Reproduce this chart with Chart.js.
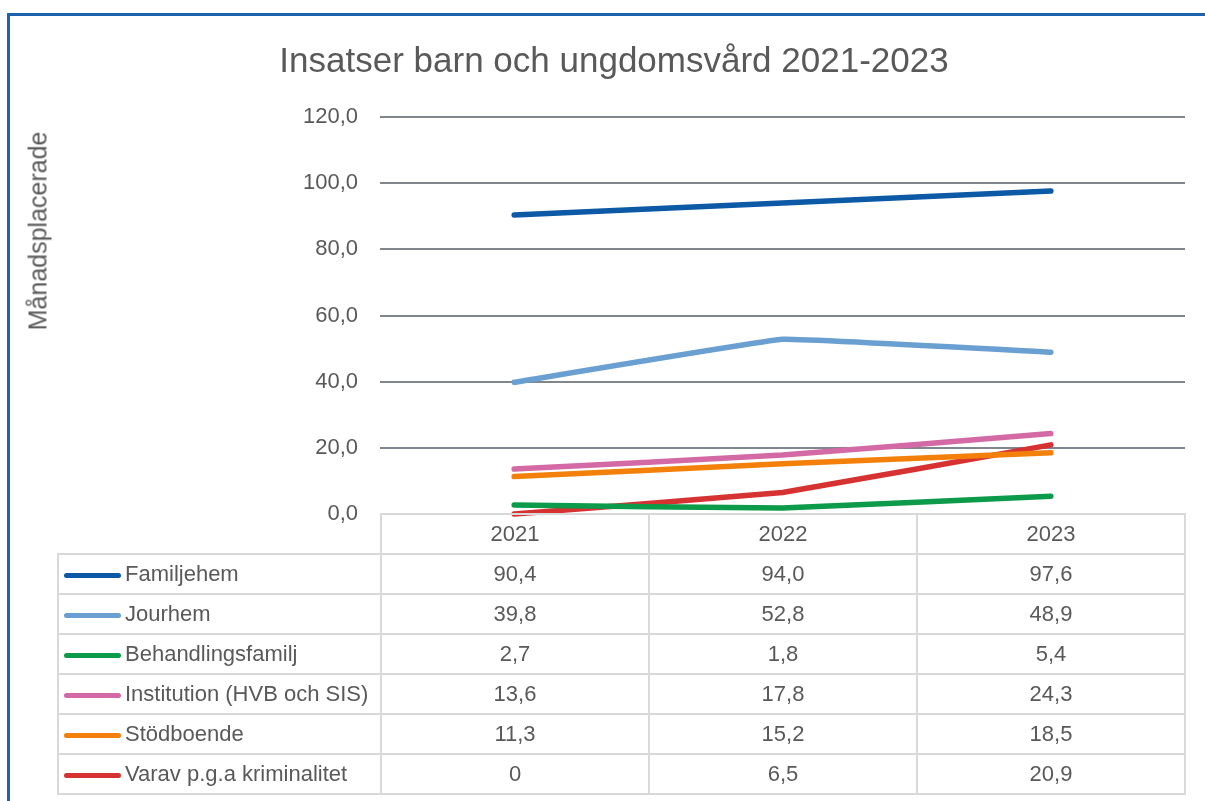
<!DOCTYPE html>
<html>
<head>
<meta charset="utf-8">
<script src="https://cdn.jsdelivr.net/npm/chart.js@4.4.1/dist/chart.umd.min.js"></script>
<style>
  body { margin: 0; background: #fff; }
  #wrap { position: relative; width: 1205px; height: 801px; overflow: hidden; font-family: "Liberation Sans", sans-serif; color: #595959; }
  #frame { position: absolute; left: 7px; top: 13px; width: 1210px; height: 800px; border-left: 3px solid #1e63b0; border-top: 3px solid #1e63b0; }
  #chartBox { position: absolute; left: 0; top: 0; width: 1205px; height: 801px; }
  #ytitle { position: absolute; left: 38px; top: 231px; transform: translate(-50%, -50%) rotate(-90deg); white-space: nowrap; font-size: 25px; }
  #tbl { position: absolute; left: 57px; top: 513px; border-collapse: collapse; font-size: 22px; }
  #tbl td { border: 2px solid #d9d9d9; text-align: center; padding: 0; height: 38px; width: 266px; }
  #tbl td.name { width: 321px; text-align: left; white-space: nowrap; }
  #tbl td.blank { border: none; border-right: 2px solid #d9d9d9; }
  .sw { display: inline-block; width: 57px; height: 5px; border-radius: 3px; vertical-align: middle; margin: 0 4px 0 5px; }
</style>
</head>
<body>
<div id="wrap">
  <div id="frame"></div>
  <div id="chartBox"><canvas id="myChart"></canvas></div>
  <div id="ytitle">Månadsplacerade</div>
  <table id="tbl"></table>
</div>
<script>
var years = ["2021", "2022", "2023"];
var seriesNames = ["Familjehem", "Jourhem", "Behandlingsfamilj", "Institution (HVB och SIS)", "Stödboende", "Varav p.g.a kriminalitet"];
var familjehem = [90.4, 94.0, 97.6];
var jourhem = [39.8, 52.8, 48.9];
var behandlingsfamilj = [2.7, 1.8, 5.4];
var institution = [13.6, 17.8, 24.3];
var stodboende = [11.3, 15.2, 18.5];
var kriminalitet = [0, 6.5, 20.9];
var yTicks = [0, 20, 40, 60, 80, 100, 120];

var seriesValues = [familjehem, jourhem, behandlingsfamilj, institution, stodboende, kriminalitet];
var colors = ["#0c59a5", "#6a9fd1", "#0c9a4b", "#d36aa5", "#f2800a", "#d63232"];

function fmt(v) {
	if (v === 0) return "0";
	return v.toFixed(1).replace(".", ",");
}

// data table under the plot
var html = '<tr><td class="name blank"></td>';
for (var i = 0; i < years.length; i++) html += '<td>' + years[i] + '</td>';
html += '</tr>';
for (var s = 0; s < seriesNames.length; s++) {
	html += '<tr><td class="name"><span class="sw" style="background:' + colors[s] + '"></span>' + seriesNames[s] + '</td>';
	for (var j = 0; j < years.length; j++) html += '<td>' + fmt(seriesValues[s][j]) + '</td>';
	html += '</tr>';
}
document.getElementById('tbl').innerHTML = html;

var datasets = [];
for (var k = 0; k < seriesNames.length; k++) {
	datasets.push({
		label: seriesNames[k],
		data: seriesValues[k],
		borderColor: colors[k],
		backgroundColor: colors[k],
		borderWidth: 5.5,
		borderCapStyle: 'round',
		borderJoinStyle: 'round',
		pointRadius: 0,
		tension: 0.06,
		clip: false
	});
}

var ctx = document.getElementById('myChart').getContext('2d');
var myChart = new Chart(ctx, {
	type: 'line',
	data: { labels: years, datasets: datasets },
	options: {
		responsive: true,
		maintainAspectRatio: false,
		animation: false,
		layout: { padding: { left: 43, right: 20, top: 0, bottom: 287 } },
		plugins: {
			legend: { display: false },
			tooltip: { enabled: false },
			title: {
				display: true,
				text: 'Insatser barn och ungdomsvård 2021-2023',
				color: '#595959',
				font: { family: '"Liberation Sans", sans-serif', size: 35, weight: 'normal' },
				padding: { top: 41, bottom: 34 }
			}
		},
		scales: {
			x: {
				display: false,
				offset: true
			},
			y: {
				min: 0,
				max: 120,
				afterBuildTicks: function(scale) {
					scale.ticks = yTicks.map(function(v) { return { value: v }; });
				},
				afterFit: function(scale) { scale.width = 337; },
				border: { display: false },
				grid: {
					drawTicks: false,
					lineWidth: 2,
					color: function(c) { return c.tick && c.tick.value === 0 ? 'rgba(0,0,0,0)' : '#7f868c'; }
				},
				ticks: {
					padding: 22,
					color: '#595959',
					font: { family: '"Liberation Sans", sans-serif', size: 22 },
					callback: function(v) { return v.toFixed(1).replace(".", ","); }
				}
			}
		}
	}
});
</script>
</body>
</html>
